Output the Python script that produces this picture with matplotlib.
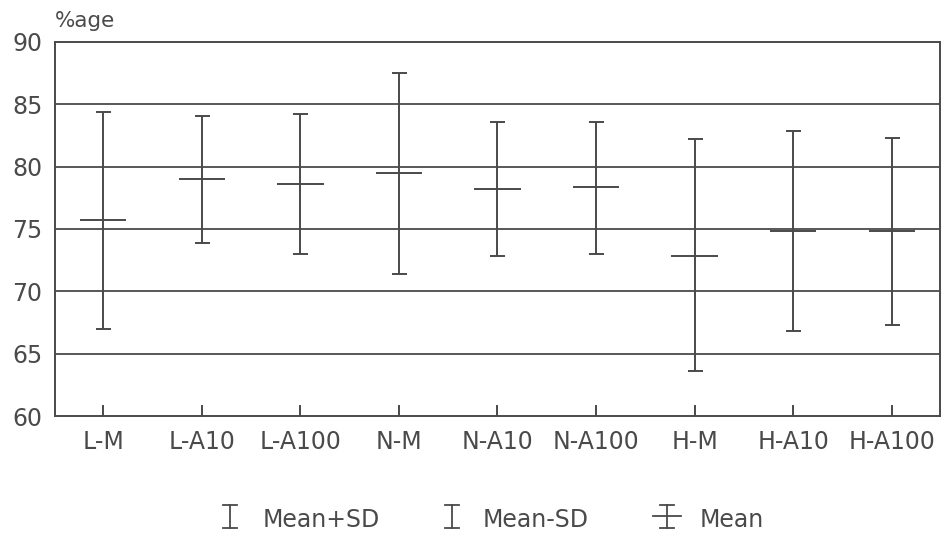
import matplotlib
matplotlib.use('Agg')
import matplotlib.pyplot as plt
from matplotlib.lines import Line2D

groups = ['L-M', 'L-A10', 'L-A100', 'N-M', 'N-A10', 'N-A100', 'H-M', 'H-A10', 'H-A100']
mean = [75.7, 79.0, 78.6, 79.5, 78.2, 78.4, 72.8, 74.8, 74.8]
mean_plus_sd = [84.4, 84.1, 84.2, 87.5, 83.6, 83.6, 82.2, 82.9, 82.3]
mean_minus_sd = [67.0, 73.9, 73.0, 71.4, 72.8, 73.0, 63.6, 66.8, 67.3]
yticks = [60, 65, 70, 75, 80, 85, 90]

ink = '#4a4a4a'
plt.rcParams['font.family'] = ['DejaVu Sans']

fig = plt.figure(figsize=(9.52, 5.35), dpi=100)
ax = fig.add_axes([55/952, 1-416/535, 885/952, 374/535])

x = list(range(len(groups)))
err_lo = [m - lo for m, lo in zip(mean, mean_minus_sd)]
err_hi = [hi - m for m, hi in zip(mean, mean_plus_sd)]

for y in yticks[1:-1]:
    ax.axhline(y, color=ink, lw=1.3, zorder=1)

ax.errorbar(x, mean, yerr=[err_lo, err_hi], fmt='none', ecolor=ink,
            elinewidth=1.4, capsize=5.4, capthick=1.4, zorder=3)
ax.hlines(mean, [i - 0.235 for i in x], [i + 0.235 for i in x],
          color=ink, lw=1.4, zorder=3)

ax.set_xlim(-0.49, 8.49)
ax.set_ylim(60, 90)
ax.set_yticks(yticks)
ax.set_xticks(x)
ax.set_xticklabels(groups)
for s in ax.spines.values():
    s.set_color(ink)
    s.set_linewidth(1.4)
ax.tick_params(axis='x', direction='in', length=8, width=1.4, color=ink,
               labelsize=17, labelcolor=ink, pad=10)
ax.tick_params(axis='y', length=0, labelsize=17, labelcolor=ink, pad=9)

fig.text(55/952, 1-21/535, '%age', fontsize=15.5, color=ink, ha='left', va='center')

# legend drawn by hand
def bar_symbol(cx, with_mean=False):
    top, bot = 1-505/535, 1-528/535
    hw = 7/952
    fig.add_artist(Line2D([cx, cx], [bot, top], color=ink, lw=1.3, transform=fig.transFigure))
    for yy in (top, bot):
        fig.add_artist(Line2D([cx-hw, cx+hw], [yy, yy], color=ink, lw=1.3, transform=fig.transFigure))
    if with_mean:
        ym = 1-516/535
        fig.add_artist(Line2D([cx-14/952, cx+14/952], [ym, ym], color=ink, lw=1.3, transform=fig.transFigure))

legend_items = [('Mean+SD', 230, 263, False), ('Mean-SD', 452, 483, False), ('Mean', 667, 700, True)]
for label, sx, tx, wm in legend_items:
    bar_symbol(sx/952, wm)
    fig.text(tx/952, 1-520/535, label, fontsize=17, color=ink, ha='left', va='center')

fig.savefig('out.png', dpi=100)
